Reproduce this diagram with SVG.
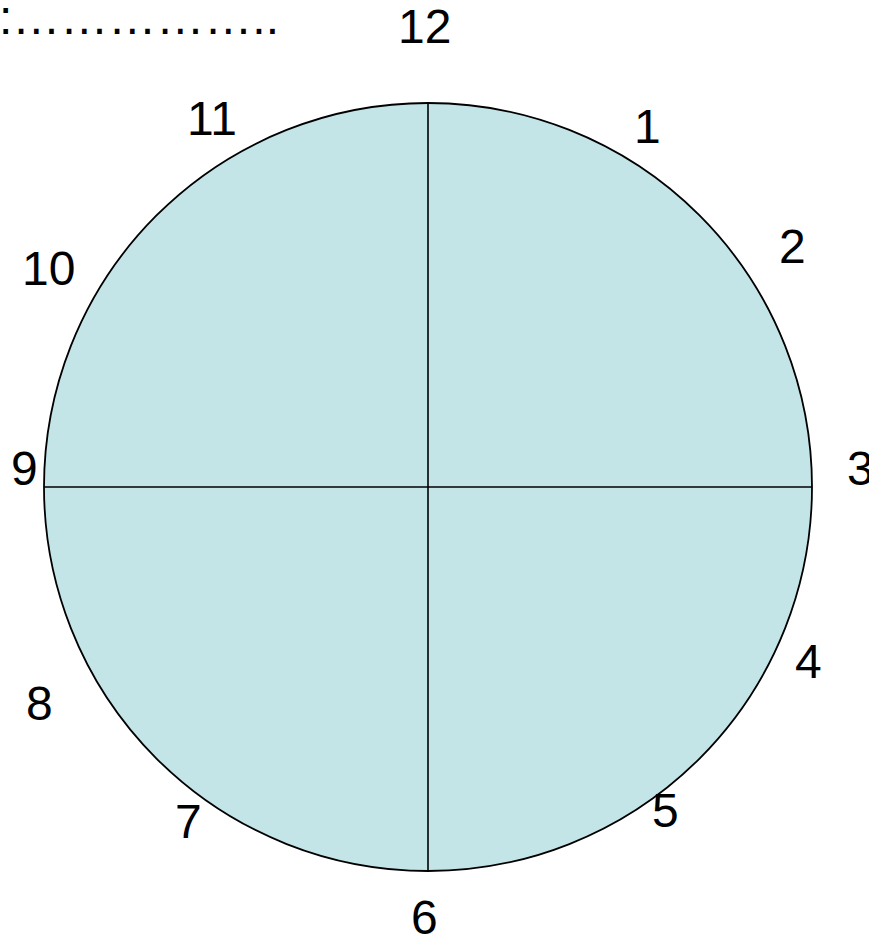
<svg xmlns="http://www.w3.org/2000/svg" width="869" height="938" viewBox="0 0 869 938">
<style>
.lbl{font-family:"Liberation Sans",Arial,sans-serif;font-size:48px;fill:#000}
.ln{stroke:#000;stroke-width:1.6;fill:none}
</style>
<rect width="869" height="938" fill="#fff"/>
<text class="lbl" x="-1" y="34">:……………..</text>
<g id="clock">
<circle cx="428" cy="487" r="384" fill="#C3E5E8" stroke="#000" stroke-width="1.8"/>
</g>
<g id="connectors">
<line class="ln" x1="428" y1="103" x2="428" y2="871"/>
<line class="ln" x1="44" y1="487" x2="812" y2="487"/>
</g>
<g id="labels">
<text class="lbl" x="398" y="43">12</text>
<text class="lbl" x="634" y="143">1</text>
<text class="lbl" x="779" y="263">2</text>
<text class="lbl" x="847" y="485">3</text>
<text class="lbl" x="795" y="678">4</text>
<text class="lbl" x="652" y="827">5</text>
<text class="lbl" x="411" y="934">6</text>
<text class="lbl" x="175" y="838">7</text>
<text class="lbl" x="26" y="720">8</text>
<text class="lbl" x="11" y="485">9</text>
<text class="lbl" x="22" y="285">10</text>
<text class="lbl" x="187" y="135">11</text>
</g>
</svg>
